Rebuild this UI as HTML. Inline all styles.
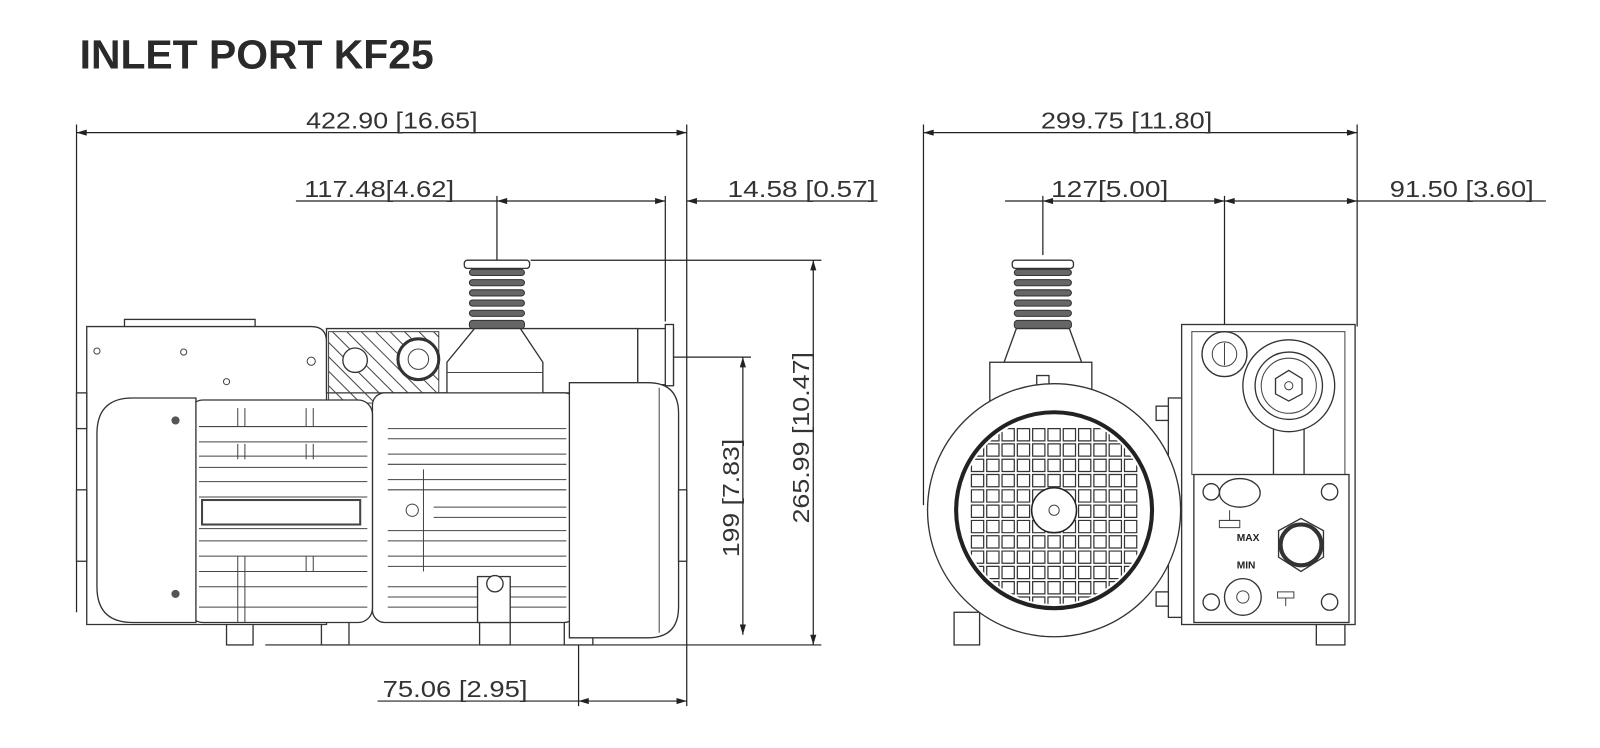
<!DOCTYPE html>
<html><head><meta charset="utf-8"><style>
html,body{margin:0;padding:0;background:#fff;width:1600px;height:748px;overflow:hidden}
svg{display:block}
.t{font-family:"Liberation Sans",sans-serif;font-size:23px;fill:#333}
.d{stroke:#222;stroke-width:1.2;fill:none}
.l{stroke:#333;stroke-width:1.3;fill:#fff}
.f{stroke:#444;stroke-width:1;fill:none}
</style></head><body>
<svg width="1600" height="748" viewBox="0 0 1568 733" preserveAspectRatio="none" xmlns="http://www.w3.org/2000/svg">
<defs>
<marker id="a" viewBox="0 0 10 6" refX="10" refY="3" markerWidth="12" markerHeight="5" orient="auto-start-reverse"><path d="M0,0L10,3L0,6z" fill="#222"/></marker>
<clipPath id="fc"><circle cx="1033" cy="500" r="92"/></clipPath>
<pattern id="hat" width="10" height="10" patternUnits="userSpaceOnUse" patternTransform="rotate(-45)"><line x1="0" y1="0" x2="0" y2="10" stroke="#444" stroke-width="2"/></pattern>
</defs>
<text x="78" y="67" style="font-family:'Liberation Sans',sans-serif;font-size:40px;font-weight:bold;fill:#2a2a2a" textLength="347" lengthAdjust="spacingAndGlyphs">INLET PORT KF25</text>

<line class="d" x1="75" y1="122" x2="75" y2="600"/>
<line class="d" x1="673" y1="122" x2="673" y2="692"/>
<line class="d" x1="75" y1="130" x2="673" y2="130" marker-start="url(#a)" marker-end="url(#a)"/>
<text class="t" x="300" y="126" textLength="168" lengthAdjust="spacingAndGlyphs">422.90 [16.65]</text>
<line class="d" x1="290" y1="197" x2="487" y2="197"/>
<line class="d" x1="487" y1="197" x2="652" y2="197" marker-start="url(#a)" marker-end="url(#a)"/>
<text class="t" x="298" y="193" textLength="147" lengthAdjust="spacingAndGlyphs">117.48[4.62]</text>
<line class="d" x1="673" y1="197" x2="860" y2="197" marker-start="url(#a)"/>
<text class="t" x="713" y="193" textLength="145" lengthAdjust="spacingAndGlyphs">14.58 [0.57]</text>
<line class="d" x1="487" y1="192" x2="487" y2="255"/>
<line class="d" x1="652" y1="192" x2="652" y2="315"/>
<line class="d" x1="520" y1="255" x2="805" y2="255"/>
<line class="d" x1="797" y1="255" x2="797" y2="632" marker-start="url(#a)" marker-end="url(#a)"/>
<text class="t" transform="translate(793,513) rotate(-90)" textLength="168" lengthAdjust="spacingAndGlyphs">265.99 [10.47]</text>
<line class="d" x1="660" y1="350" x2="736" y2="350"/>
<line class="d" x1="728" y1="350" x2="728" y2="622" marker-start="url(#a)" marker-end="url(#a)"/>
<text class="t" transform="translate(724,546) rotate(-90)" textLength="116" lengthAdjust="spacingAndGlyphs">199 [7.83]</text>
<line class="d" x1="260" y1="632" x2="805" y2="632"/>
<line class="d" x1="567" y1="632" x2="567" y2="692"/>
<line class="d" x1="370" y1="687" x2="567" y2="687"/>
<line class="d" x1="567" y1="687" x2="673" y2="687" marker-start="url(#a)" marker-end="url(#a)"/>
<text class="t" x="375" y="683" textLength="142" lengthAdjust="spacingAndGlyphs">75.06 [2.95]</text>

<g>
<rect class="l" x="222" y="606" width="26" height="26"/><rect class="l" x="315" y="606" width="27" height="26"/>
<rect class="l" x="470" y="606" width="30" height="26"/><rect class="l" x="553" y="606" width="28" height="26"/>
<rect class="l" x="122" y="313" width="128" height="8"/>
<path class="l" d="M85,320H305Q320,320 320,335V612H85Z"/>
<circle class="f" cx="95" cy="344" r="3"/><circle class="f" cx="180" cy="345" r="3"/><circle class="f" cx="222" cy="374" r="3"/><circle class="f" cx="305" cy="354" r="4"/>
<rect class="l" x="75" y="385" width="10" height="35"/><rect class="l" x="75" y="480" width="10" height="70"/>
<path class="l" d="M320,322H625V385H320Z"/>
<rect x="322" y="325" width="108" height="70" fill="url(#hat)" stroke="#444"/>
<circle class="l" cx="348" cy="353" r="12"/>
<circle cx="410" cy="352" r="20" fill="#fff" stroke="#333" stroke-width="3"/><circle class="f" cx="410" cy="352" r="10"/>
<rect class="l" x="625" y="322" width="35" height="55"/><rect class="l" x="652" y="318" width="8" height="60"/>
<rect class="l" x="455" y="255" width="64" height="8" rx="3"/>
<g fill="#666" stroke="#333"><rect x="460" y="264" width="54" height="6" rx="3"/><rect x="460" y="274" width="54" height="6" rx="3"/><rect x="460" y="284" width="54" height="6" rx="3"/><rect x="460" y="294" width="54" height="6" rx="3"/><rect x="460" y="304" width="54" height="6" rx="3"/><rect x="460" y="314" width="54" height="8" rx="3"/></g>
<path class="l" d="M465,322H510L532,355V410H438V355Z"/>
<line class="f" x1="438" y1="365" x2="532" y2="365"/><line class="f" x1="438" y1="395" x2="532" y2="395"/>
<rect class="l" x="365" y="385" width="200" height="225" rx="12"/>
<g class="f">
<path d="M380,420H555M380,430H555M380,445H555M380,455H555M380,470H555M380,480H555M380,520H555M380,530H555M380,545H555M380,555H555M380,575H555M380,585H555M380,595H555"/>
<path d="M425,497H555M425,507H555"/><circle cx="404" cy="500" r="6"/><circle cx="570" cy="500" r="5"/>
<path d="M415,460V560"/>
</g>
<rect class="l" x="468" y="565" width="32" height="45"/><circle class="l" cx="485" cy="572" r="8"/>
<rect class="l" x="185" y="392" width="180" height="218" rx="14"/>
<g class="f">
<path d="M195,418H360M195,433H360M195,447H360M195,458H360M195,472H360M195,487H360M195,518H360M195,530H360M195,545H360M195,560H360M195,575H360M195,595H360"/>
<rect x="198" y="490" width="155" height="24" stroke-width="2"/>
<path d="M233,400V418M240,400V418M300,400V418M307,400V418M233,545V610M240,545V610M300,545V560M307,545V560M233,435V450M240,435V450M300,435V450M307,435V450"/>
</g>
<path class="l" d="M192,390V610H130Q95,610 95,575V425Q95,390 130,390Z"/>
<circle cx="172" cy="412" r="4" fill="#555"/><circle cx="172" cy="582" r="4" fill="#555"/>
<path class="l" d="M558,375H635Q665,375 665,405V595Q665,625 635,625H558Z"/>
<line class="f" x1="646" y1="380" x2="646" y2="620"/>
<rect class="l" x="665" y="480" width="8" height="70"/>
</g>

<line class="d" x1="905" y1="122" x2="905" y2="495"/>
<line class="d" x1="1330" y1="122" x2="1330" y2="320"/>
<line class="d" x1="905" y1="130" x2="1330" y2="130" marker-start="url(#a)" marker-end="url(#a)"/>
<text class="t" x="1020" y="126" textLength="168" lengthAdjust="spacingAndGlyphs">299.75 [11.80]</text>
<line class="d" x1="985" y1="197" x2="1022" y2="197"/>
<line class="d" x1="1022" y1="197" x2="1200" y2="197" marker-start="url(#a)" marker-end="url(#a)"/>
<text class="t" x="1030" y="193" textLength="115" lengthAdjust="spacingAndGlyphs">127[5.00]</text>
<line class="d" x1="1200" y1="197" x2="1330" y2="197" marker-start="url(#a)" marker-end="url(#a)"/>
<line class="d" x1="1330" y1="197" x2="1515" y2="197"/>
<text class="t" x="1362" y="193" textLength="141" lengthAdjust="spacingAndGlyphs">91.50 [3.60]</text>
<line class="d" x1="1022" y1="192" x2="1022" y2="250"/>
<line class="d" x1="1200" y1="192" x2="1200" y2="320"/>

<rect class="l" x="935" y="600" width="25" height="32"/><rect class="l" x="1290" y="606" width="28" height="26"/>
<rect class="l" x="992" y="255" width="60" height="8" rx="3"/>
<g fill="#666" stroke="#333"><rect x="994" y="264" width="56" height="6" rx="3"/><rect x="994" y="274" width="56" height="6" rx="3"/><rect x="994" y="284" width="56" height="6" rx="3"/><rect x="994" y="294" width="56" height="6" rx="3"/><rect x="994" y="304" width="56" height="6" rx="3"/><rect x="994" y="314" width="56" height="8" rx="3"/></g>
<path class="l" d="M996,322H1048L1060,355H984Z"/>
<rect class="l" x="970" y="355" width="100" height="50"/>
<rect class="l" x="1016" y="368" width="12" height="12"/>
<rect class="l" x="1145" y="390" width="20" height="215"/>
<rect class="l" x="1133" y="398" width="12" height="14"/><rect class="l" x="1133" y="580" width="12" height="14"/>
<rect class="l" x="1158" y="318" width="170" height="294"/>
<rect class="f" x="1168" y="325" width="150" height="140"/>
<circle class="l" cx="1263" cy="378" r="45"/><circle class="l" cx="1263" cy="378" r="33"/><circle class="f" cx="1263" cy="378" r="27"/>
<polygon class="l" points="1263,363 1276,371 1276,386 1263,393 1250,386 1250,371"/><circle class="f" cx="1263" cy="378" r="4"/>
<path class="l" d="M1248,420V465M1278,420V465"/>
<circle class="l" cx="1200" cy="347" r="22"/><circle class="f" cx="1200" cy="347" r="12"/><line class="f" x1="1200" y1="336" x2="1200" y2="358"/>
<rect class="l" x="1170" y="465" width="152" height="145"/>
<g class="l"><circle cx="1187" cy="482" r="8"/><circle cx="1303" cy="482" r="8"/><circle cx="1187" cy="590" r="8"/><circle cx="1303" cy="590" r="8"/></g>
<ellipse class="l" cx="1215" cy="483" rx="20" ry="14"/>
<path class="f" d="M1195,510H1215V517H1195ZM1205,500V510"/>
<text x="1212" y="530" style="font-family:'Liberation Sans',sans-serif;font-size:10px;font-weight:bold;fill:#222">MAX</text>
<text x="1212" y="557" style="font-family:'Liberation Sans',sans-serif;font-size:10px;font-weight:bold;fill:#222">MIN</text>
<polygon class="l" points="1275,508 1297,520 1297,546 1275,560 1253,546 1253,520"/>
<circle cx="1275" cy="534" r="20" fill="#fff" stroke="#333" stroke-width="4"/>
<circle class="l" cx="1218" cy="585" r="18"/><circle class="f" cx="1218" cy="585" r="6"/>
<path class="f" d="M1252,580H1268V586H1252ZM1260,586V594"/>
<circle class="l" cx="1033" cy="500" r="124"/>
<circle cx="1033" cy="500" r="96" fill="#fff" stroke="#222" stroke-width="4"/>
<g clip-path="url(#fc)" fill="none" stroke="#333" stroke-width="1.2">
<path d="M952,420h12v12h-12zM967,420h12v12h-12zM982,420h12v12h-12zM997,420h12v12h-12zM1012,420h12v12h-12zM1027,420h12v12h-12zM1042,420h12v12h-12zM1057,420h12v12h-12zM1072,420h12v12h-12zM1087,420h12v12h-12zM1102,420h12v12h-12z" id="row"/>
<use href="#row" y="15"/><use href="#row" y="30"/><use href="#row" y="45"/><use href="#row" y="60"/><use href="#row" y="75"/><use href="#row" y="90"/><use href="#row" y="105"/><use href="#row" y="120"/><use href="#row" y="135"/><use href="#row" y="150"/><use href="#row" y="165"/>
</g>
<circle cx="1033" cy="500" r="22" fill="#fff" stroke="#222" stroke-width="1.5"/><circle class="f" cx="1033" cy="500" r="5"/>
</svg>
</body></html>
